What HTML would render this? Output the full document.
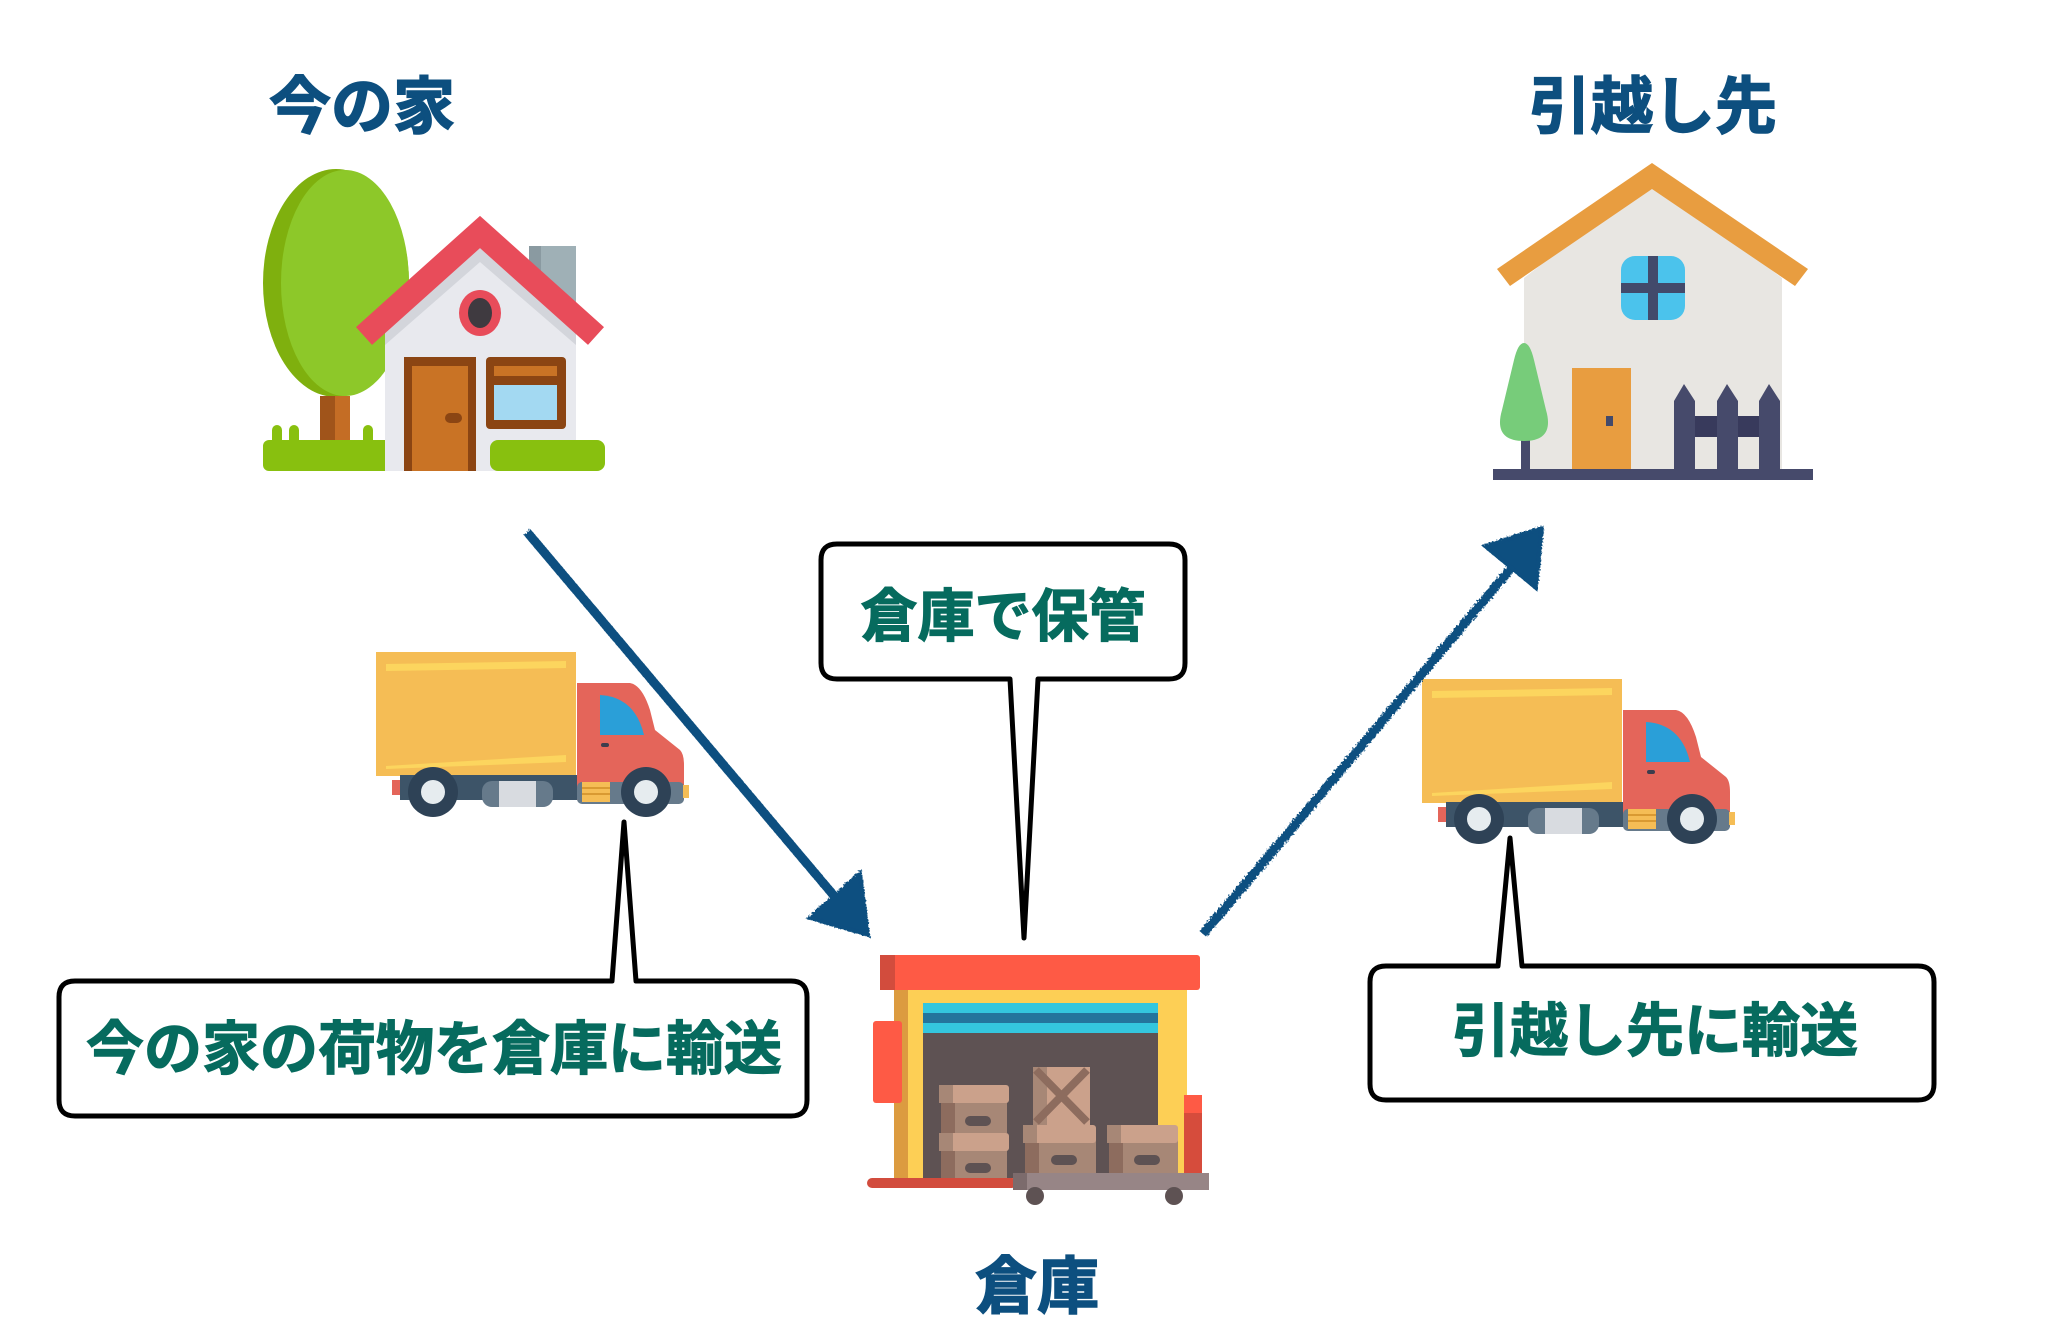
<!DOCTYPE html>
<html><head><meta charset="utf-8"><style>
html,body{margin:0;padding:0;background:#fff;}
svg{display:block;}
text{font-family:"Liberation Sans","Noto Sans CJK JP",sans-serif;font-weight:bold;}
</style></head><body>
<svg width="2058" height="1344" viewBox="0 0 2058 1344" xmlns="http://www.w3.org/2000/svg">
<defs>
<filter id="rough" x="-10%" y="-10%" width="120%" height="120%">
<feTurbulence type="fractalNoise" baseFrequency="0.5" numOctaves="2" seed="3"/>
<feDisplacementMap in="SourceGraphic" scale="4"/>
</filter>
</defs>
<rect width="2058" height="1344" fill="#fff"/>

<!-- Titles -->
<text x="362" y="128" font-size="62" fill="#0d4f7f" text-anchor="middle" stroke="#0d4f7f" stroke-width="1.5">今の家</text>
<text x="1653" y="128" font-size="62" fill="#0d4f7f" text-anchor="middle" stroke="#0d4f7f" stroke-width="1.5">引越し先</text>
<text x="1037" y="1308" font-size="62" fill="#0d4f7f" text-anchor="middle" stroke="#0d4f7f" stroke-width="1.5">倉庫</text>

<!-- Left house -->
<ellipse cx="336" cy="283" rx="73" ry="114" fill="#7fb00e"/>
<ellipse cx="345" cy="283" rx="64" ry="113" fill="#8dc829"/>
<rect x="320" y="396" width="30" height="46" fill="#a0541a"/>
<rect x="335" y="396" width="15" height="46" fill="#c46d25"/>
<rect x="272" y="425" width="10" height="20" rx="5" fill="#88c00f"/>
<rect x="289" y="425" width="10" height="20" rx="5" fill="#88c00f"/>
<rect x="363" y="425" width="10" height="20" rx="5" fill="#88c00f"/>
<rect x="263" y="440" width="129" height="31" rx="6" fill="#88c00f"/>
<rect x="529" y="246" width="47" height="75" fill="#9fb0b6"/>
<rect x="529" y="246" width="12" height="75" fill="#8a9aa1"/>
<polygon points="385,330 480,232 576,330 576,471 385,471" fill="#e8e9ee"/>
<polygon points="385,318 480,232 576,318 576,345 480,262 385,345" fill="#d3d5db"/>
<polyline points="364,336 480,232 596,336" fill="none" stroke="#e84c5a" stroke-width="24"/>
<ellipse cx="480" cy="313" rx="21" ry="23" fill="#e84c5a"/>
<ellipse cx="480" cy="313" rx="12" ry="15" fill="#3f3a40"/>
<rect x="404" y="357" width="72" height="114" fill="#8b4513"/>
<rect x="412" y="366" width="56" height="105" fill="#c97325"/>
<rect x="445" y="413" width="17" height="10" rx="5" fill="#8b4513"/>
<rect x="486" y="357" width="80" height="72" rx="4" fill="#8b4513"/>
<rect x="494" y="366" width="63" height="10" fill="#c97325"/>
<rect x="494" y="385" width="63" height="35" fill="#a3d9f2"/>
<rect x="490" y="440" width="115" height="31" rx="8" fill="#88c00f"/>

<!-- Right house -->
<polygon points="1524,278 1652,178 1782,278 1782,469 1524,469" fill="#e8e6e2"/>
<polygon points="1497,269 1652,163 1808,269 1795,286 1652,189 1510,286" fill="#e89d40"/>
<rect x="1621" y="256" width="64" height="64" rx="14" fill="#4bc3ec"/>
<rect x="1648" y="256" width="10" height="64" fill="#424a6b"/>
<rect x="1621" y="283" width="64" height="10" fill="#424a6b"/>
<rect x="1572" y="368" width="59" height="101" fill="#e89d40"/>
<rect x="1606" y="416" width="7" height="10" fill="#424a6b"/>
<rect x="1521" y="420" width="9" height="50" fill="#464a6b"/>
<path d="M1524 343 Q1530 343 1534 360 L1546 410 Q1555 441 1524 441 Q1493 441 1502 410 L1514 360 Q1518 343 1524 343Z" fill="#77cc7a"/>
<rect x="1695" y="416" width="64" height="21" fill="#383a5c"/>
<polygon points="1674,401 1684,384 1695,401 1695,469 1674,469" fill="#464a6b"/>
<polygon points="1717,401 1727,384 1738,401 1738,469 1717,469" fill="#464a6b"/>
<polygon points="1759,401 1769,384 1780,401 1780,469 1759,469" fill="#464a6b"/>
<rect x="1493" y="469" width="320" height="11" fill="#464a6b"/>

<!-- Trucks -->
<g id="truck">
<rect x="376" y="652" width="200" height="124" fill="#f5bd55"/>
<polygon points="386,664 566,661 566,668 386,671" fill="#fcd55e"/>
<polygon points="386,766 566,755 566,762 386,769" fill="#fcd55e"/>
<rect x="392" y="780" width="10" height="15" fill="#e4655a"/>
<rect x="400" y="775" width="283" height="25" fill="#3d5468"/>
<path d="M577 683 L630 683 Q642 685 650 710 L655 730 L680 750 Q684 754 684 765 L684 800 L577 800Z" fill="#e4655a"/>
<path d="M600 695 Q635 697 644 735 L600 735Z" fill="#2a9fd8"/>
<rect x="601" y="743" width="8" height="4" rx="2" fill="#3d3d4d"/>
<rect x="577" y="782" width="107" height="22" rx="5" fill="#667a8b"/>
<rect x="582" y="782" width="28" height="20" fill="#f5bd55"/>
<rect x="582" y="787" width="28" height="2" fill="#d99a32"/><rect x="582" y="793" width="28" height="2" fill="#d99a32"/>
<rect x="683" y="785" width="6" height="13" fill="#f5bd55"/>
<rect x="482" y="781" width="71" height="26" rx="10" fill="#667a8b"/>
<rect x="499" y="781" width="37" height="26" fill="#d8dbe0"/>
<circle cx="433" cy="792" r="25" fill="#2e4256"/><circle cx="433" cy="792" r="12" fill="#e6ecef"/>
<circle cx="646" cy="792" r="25" fill="#2e4256"/><circle cx="646" cy="792" r="12" fill="#e6ecef"/>
</g>
<use href="#truck" transform="translate(1046,27)"/>

<!-- Warehouse -->
<rect x="880" y="955" width="320" height="35" rx="3" fill="#fe5a45"/>
<rect x="880" y="955" width="15" height="35" fill="#d24c3d"/>
<rect x="894" y="990" width="293" height="190" fill="#fdcf55"/>
<rect x="894" y="990" width="14" height="190" fill="#dc9b40"/>
<rect x="873" y="1021" width="29" height="82" rx="3" fill="#fe5a45"/>
<rect x="923" y="1003" width="235" height="175" fill="#5e5253"/>
<rect x="923" y="1003" width="235" height="30" fill="#34c6de"/>
<rect x="923" y="1013" width="235" height="10" fill="#24749c"/>
<g>
<rect x="941" y="1100" width="66" height="33" fill="#a78776"/><rect x="941" y="1100" width="14" height="33" fill="#8d6c5e"/>
<rect x="939" y="1085" width="70" height="18" rx="3" fill="#cba18b"/><rect x="939" y="1085" width="14" height="18" fill="#a78776"/>
<rect x="965" y="1116" width="26" height="10" rx="5" fill="#5e5253"/>
<rect x="941" y="1148" width="66" height="30" fill="#a78776"/><rect x="941" y="1148" width="14" height="30" fill="#8d6c5e"/>
<rect x="939" y="1133" width="70" height="18" rx="3" fill="#cba18b"/><rect x="939" y="1133" width="14" height="18" fill="#a78776"/>
<rect x="965" y="1163" width="26" height="10" rx="5" fill="#5e5253"/>
<rect x="1033" y="1067" width="57" height="58" fill="#cba18b"/><rect x="1033" y="1067" width="14" height="58" fill="#a78776"/>
<path d="M1036 1070 L1087 1122 M1087 1070 L1036 1122" stroke="#8d6c5e" stroke-width="8"/>
<rect x="1025" y="1140" width="71" height="36" fill="#a78776"/><rect x="1025" y="1140" width="14" height="36" fill="#8d6c5e"/>
<rect x="1023" y="1125" width="73" height="18" rx="3" fill="#cba18b"/><rect x="1023" y="1125" width="14" height="18" fill="#a78776"/>
<rect x="1051" y="1155" width="26" height="10" rx="5" fill="#5e5253"/>
<rect x="1109" y="1140" width="69" height="36" fill="#a78776"/><rect x="1109" y="1140" width="14" height="36" fill="#8d6c5e"/>
<rect x="1107" y="1125" width="71" height="18" rx="3" fill="#cba18b"/><rect x="1107" y="1125" width="14" height="18" fill="#a78776"/>
<rect x="1134" y="1155" width="26" height="10" rx="5" fill="#5e5253"/>
</g>
<rect x="1184" y="1095" width="18" height="80" fill="#d64c3c"/>
<rect x="1184" y="1095" width="18" height="18" fill="#fe5a45"/>
<rect x="867" y="1178" width="150" height="10" rx="5" fill="#d24c3d"/>
<rect x="1013" y="1173" width="196" height="17" fill="#978586"/>
<rect x="1013" y="1173" width="14" height="17" fill="#7c6b6c"/>
<circle cx="1035" cy="1196" r="9" fill="#5e5253"/>
<circle cx="1174" cy="1196" r="9" fill="#5e5253"/>

<!-- Arrows -->
<g filter="url(#rough)" fill="#0b4f80" stroke="#0b4f80">
<line x1="527" y1="532" x2="846" y2="910" stroke-width="9"/>
<polygon points="868,935 810,918 860,873" stroke-width="4"/>
<line x1="1203" y1="934" x2="1518" y2="560" stroke-width="9"/>
<polygon points="1542,528 1485,546 1536,588" stroke-width="4"/>
</g>

<!-- Callouts -->
<g fill="#fff" stroke="#000" stroke-width="5" stroke-linejoin="round">
<path d="M837 544 H1169 Q1185 544 1185 560 V663 Q1185 679 1169 679 H1038 L1024 938 L1010 679 H837 Q821 679 821 663 V560 Q821 544 837 544Z"/>
<path d="M75 981 H612 L624 822 L636 981 H791 Q807 981 807 997 V1100 Q807 1116 791 1116 H75 Q59 1116 59 1100 V997 Q59 981 75 981Z"/>
<path d="M1386 966 H1498 L1510 838 L1522 966 H1918 Q1934 966 1934 982 V1084 Q1934 1100 1918 1100 H1386 Q1370 1100 1370 1084 V982 Q1370 966 1386 966Z"/>
</g>
<text x="1003" y="636" font-size="57" fill="#066b5e" text-anchor="middle" stroke="#066b5e" stroke-width="1.2">倉庫で保管</text>
<text x="434" y="1069" font-size="58" fill="#066b5e" text-anchor="middle" stroke="#066b5e" stroke-width="1.2">今の家の荷物を倉庫に輸送</text>
<text x="1655" y="1051" font-size="58" fill="#066b5e" text-anchor="middle" stroke="#066b5e" stroke-width="1.2">引越し先に輸送</text>
</svg>
</body></html>
